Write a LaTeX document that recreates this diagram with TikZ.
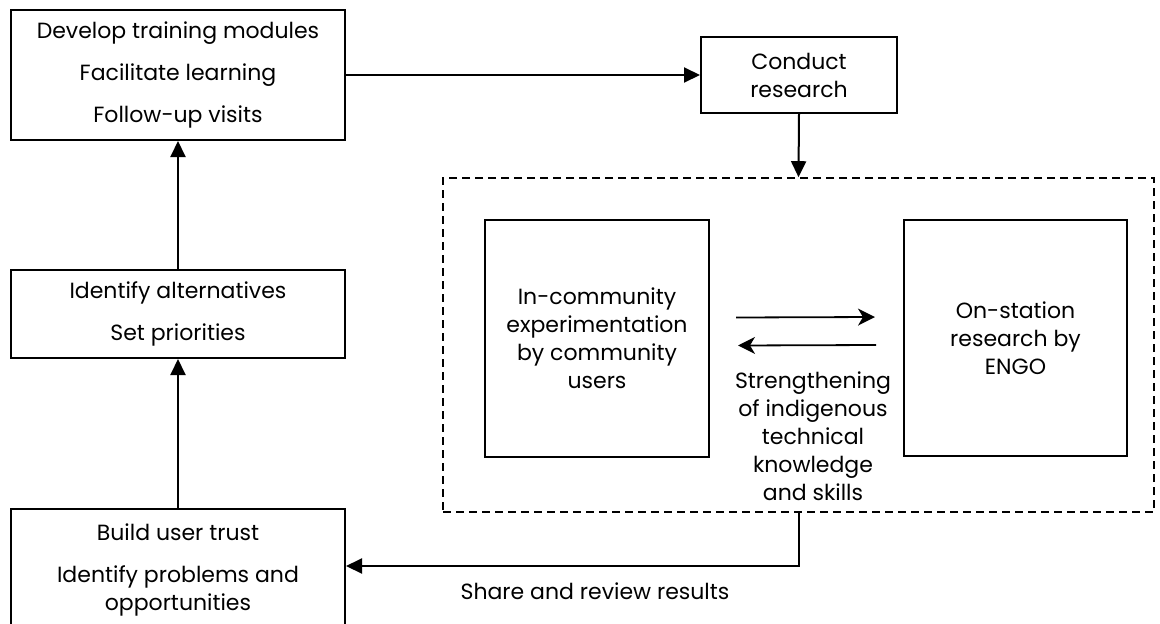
\documentclass[tikz,border=0pt]{standalone}
\usepackage{fontspec}
\setmainfont{Poppins}
\usetikzlibrary{arrows.meta}
\begin{document}
\begin{tikzpicture}[x=1pt,y=-1pt,
  txt/.style={font=\fontsize{22}{28}\selectfont},
  box/.style={txt, draw, line width=2pt, align=center, inner sep=0pt},
  zone/.style={draw, line width=1.6pt, dash pattern=on 8pt off 5pt},
  flow/.style={line width=2pt, -{Triangle[length=16pt,width=15pt]}},
  swap/.style={line width=1.8pt, -{Stealth[length=17pt,width=17pt,inset=5pt]}},
  note/.style={txt, align=center, inner sep=0pt}]
\useasboundingbox (0,0) rectangle (1160,624);

% left column of activities
\node[box, minimum width=334pt, minimum height=130pt] (train) at (178,75)
  {Develop training modules\\[14pt]Facilitate learning\\[14pt]Follow-up visits};
\node[box, minimum width=334pt, minimum height=88pt] (ident) at (178,314)
  {Identify alternatives\\[14pt]Set priorities};
\node[box, minimum width=334pt, minimum height=121pt] (build) at (178,569.5)
  {Build user trust\\[14pt]Identify problems and\\opportunities};

% research step and its area
\node[box, minimum width=196pt, minimum height=76pt] (conduct) at (799,75)
  {Conduct\\research};
\node[zone, minimum width=711pt, minimum height=334pt] (research) at (798.5,345) {};
\node[box, minimum width=224pt, minimum height=237pt] (comm) at (597,338.5)
  {In-community\\experimentation\\by community\\users};
\node[box, minimum width=223pt, minimum height=236pt] (stat) at (1015.5,338)
  {On-station\\research by\\ENGO};

% labels
\node[note] (skills) at (813,436)
  {Strengthening\\of indigenous\\technical\\knowledge\\and skills};
\node[note] (share) at (595,591) {Share and review results};

% connectors
\draw[flow] (build.north) -- (ident.south);
\draw[flow] (ident.north) -- (train.south);
\draw[flow] (train.east) -- (conduct.west);
\draw[flow] (conduct.south) -- (research.north);
\draw[flow] (research.south) |- ([yshift=3.5pt]build.east);
\draw[swap] ([xshift=26pt,yshift=21pt]comm.east) -- ([xshift=-28pt,yshift=21pt]stat.west);
\draw[swap] ([xshift=-27pt,yshift=-7pt]stat.west) -- ([xshift=28pt,yshift=-7pt]comm.east);
\end{tikzpicture}
\end{document}
